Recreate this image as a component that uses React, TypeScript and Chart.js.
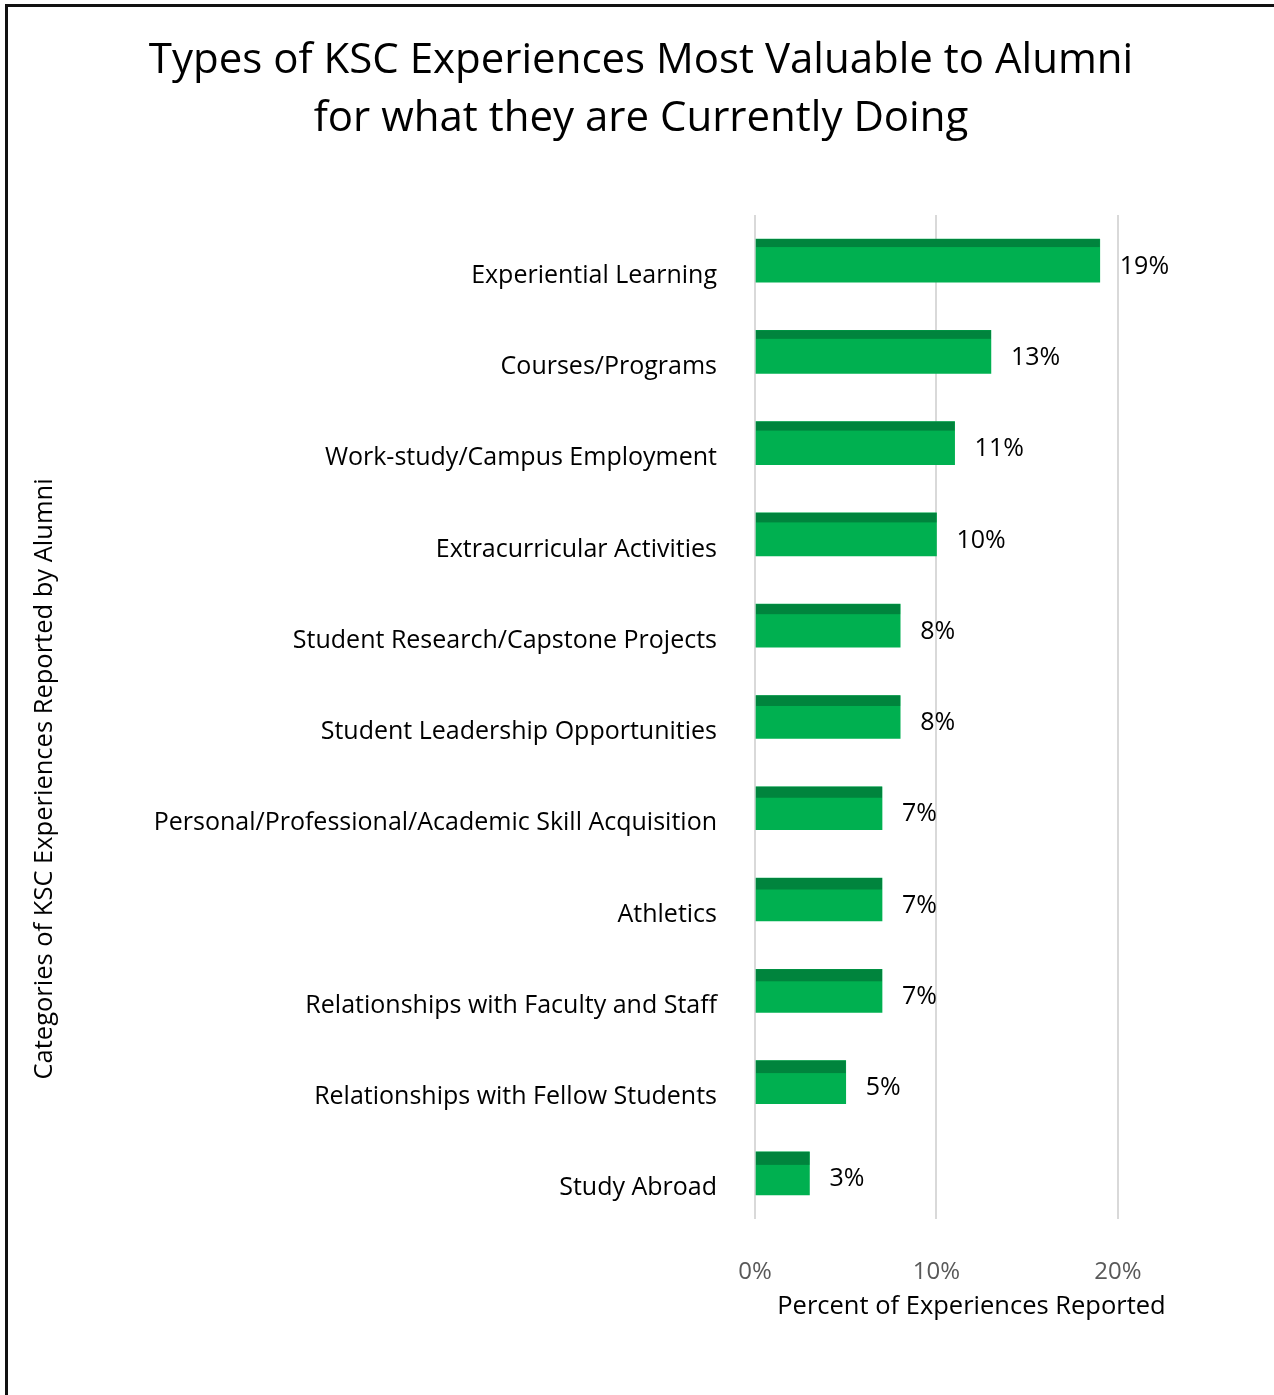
import React, { useEffect, useRef } from "react";
import { Chart, registerables } from "chart.js";

Chart.register(...registerables);

const categories = [
  "Experiential Learning",
  "Courses/Programs",
  "Work-study/Campus Employment",
  "Extracurricular Activities",
  "Student Research/Capstone Projects",
  "Student Leadership Opportunities",
  "Personal/Professional/Academic Skill Acquisition",
  "Athletics",
  "Relationships with Faculty and Staff",
  "Relationships with Fellow Students",
  "Study Abroad",
];
const values = [19, 13, 11, 10, 8, 8, 7, 7, 7, 5, 3];
const xTickValues = [0, 10, 20];
const titleLines = [
  "Types of KSC Experiences Most Valuable to Alumni",
  "for what they are Currently Doing",
];
const xTitle = "Percent of Experiences Reported";
const yTitle = "Categories of KSC Experiences Reported by Alumni";

const FONT = "'Open Sans', 'DejaVu Sans', sans-serif";
const FRONT = "#00B050";
const TOP = "#00843D";

const decorPlugin = {
  id: "decor",
  afterDatasetsDraw(chart: any) {
    const ctx = chart.ctx;
    const meta = chart.getDatasetMeta(0);
    meta.data.forEach((el: any, i: number) => {
      const { x, y, base, height } = el.getProps(["x", "y", "base", "height"], true);
      const top = y - height / 2;
      const strip = 8 + i * 0.5;
      ctx.save();
      ctx.fillStyle = TOP;
      ctx.fillRect(Math.min(base, x), top, Math.abs(x - base), strip);
      ctx.fillStyle = "#000";
      ctx.font = `25px ${FONT}`;
      ctx.textAlign = "left";
      ctx.textBaseline = "middle";
      ctx.fillText(values[i] + "%", x + 20, y + 6);
      ctx.restore();
    });
  },
  afterDraw(chart: any) {
    const ctx = chart.ctx;
    const a = chart.chartArea;
    const xs = chart.scales.x;
    ctx.save();
    ctx.fillStyle = "#000";
    ctx.font = `25.5px ${FONT}`;
    ctx.textAlign = "center";
    ctx.textBaseline = "middle";
    ctx.fillText(xTitle, xs.getPixelForValue(10) + 35, a.bottom + 88);
    ctx.translate(37, (a.top + a.bottom) / 2 + 62);
    ctx.rotate(-Math.PI / 2);
    ctx.fillText(yTitle, 0, 0);
    ctx.restore();
  },
};

export default function App() {
  const ref = useRef<HTMLCanvasElement | null>(null);
  useEffect(() => {
    if (!ref.current) return;
    const chart = new Chart(ref.current, {
      type: "bar",
      data: {
        labels: categories,
        datasets: [
          {
            data: values,
            backgroundColor: FRONT,
            borderWidth: 0,
            barThickness: 43,
          },
        ],
      },
      options: {
        indexAxis: "y",
        animation: false,
        responsive: false,
        devicePixelRatio: 1,
        layout: { padding: { left: 0, right: 0, top: 0, bottom: 0 } },
        plugins: {
          legend: { display: false },
          tooltip: { enabled: false },
          title: {
            display: true,
            text: titleLines,
            color: "#000",
            font: { family: FONT, size: 42, weight: "normal", lineHeight: 1.38 },
            padding: { top: 24, bottom: 67 },
          },
        },
        scales: {
          x: {
            type: "linear",
            min: 0,
            max: 28.6,
            afterBuildTicks: (scale: any) => {
              scale.ticks = xTickValues.map((v) => ({ value: v }));
            },
            afterFit: (scale: any) => {
              scale.height = 176;
            },
            ticks: {
              color: "#595959",
              font: { family: FONT, size: 24 },
              padding: 39,
              callback: (v: any) => v + "%",
            },
            grid: { color: "#D9D9D9", lineWidth: 2, drawTicks: false },
            border: { display: false },
          },
          y: {
            type: "category",
            afterFit: (scale: any) => {
              scale.width = 747;
            },
            ticks: {
              color: "#000",
              font: { family: FONT, size: 25 },
              padding: 30,
              labelOffset: 15,
              autoSkip: false,
            },
            grid: { display: false },
            border: { display: false },
          },
        },
      },
      plugins: [decorPlugin],
    } as any);
    return () => chart.destroy();
  }, []);

  return (
    <div style={{ position: "absolute", left: 0, top: 0, width: 1274, height: 1395, overflow: "hidden", background: "#fff" }}>
      <div
        style={{
          position: "absolute",
          left: 5,
          top: 4,
          width: 1269,
          height: 1391,
          boxSizing: "border-box",
          borderTop: "3px solid #111",
          borderLeft: "3px solid #111",
        }}
      />
      <canvas
        ref={ref}
        width={1266}
        height={1387}
        style={{ position: "absolute", left: 8, top: 8, width: 1266, height: 1387 }}
      />
    </div>
  );
}
